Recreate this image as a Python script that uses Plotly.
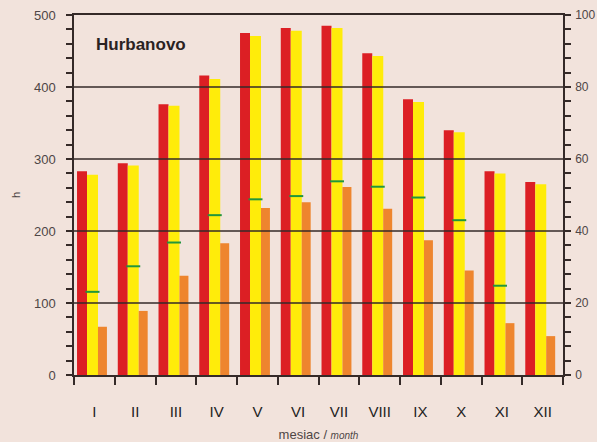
import plotly.graph_objects as go

# Monthly sunshine, Hurbanovo
months = ["I", "II", "III", "IV", "V", "VI", "VII", "VIII", "IX", "X", "XI", "XII"]
possible_hours = [283, 294, 376, 416, 475, 482, 485, 447, 383, 340, 283, 268]
astro_hours = [278, 291, 374, 411, 471, 478, 482, 443, 379, 337, 280, 265]
actual_hours = [67, 89, 138, 183, 232, 240, 261, 231, 187, 145, 72, 54]
relative_pct = [23.1, 30.2, 36.8, 44.4, 48.8, 49.7, 53.8, 52.3, 49.3, 43.0, 24.8, None]

grid_levels = [100, 200, 300, 400]

BG = "#f2e3dc"
INK = "#352a28"
LABEL = "#4e4646"
FONT = "Liberation Sans Narrow, Arial, sans-serif"

centers = [i + 0.5 for i in range(len(months))]

fig = go.Figure()
fig.add_bar(x=centers, y=possible_hours, offset=-0.426, width=0.245,
            marker=dict(color="#dc1f24", line=dict(width=0)), showlegend=False)
fig.add_bar(x=centers, y=astro_hours, offset=-0.181, width=0.27,
            marker=dict(color="#ffec0a", line=dict(width=0)), showlegend=False)
fig.add_bar(x=centers, y=actual_hours, offset=0.088, width=0.22,
            marker=dict(color="#ee852e", line=dict(width=0)), showlegend=False)
fig.add_scatter(x=[c - 0.046 for c in centers], y=relative_pct, yaxis="y2",
                mode="markers", showlegend=False,
                marker=dict(symbol="line-ew", size=10,
                            line=dict(color="#22963c", width=2)))

for lvl in grid_levels:
    fig.add_shape(type="line", xref="paper", x0=0, x1=1, yref="y", y0=lvl, y1=lvl,
                  line=dict(color=INK, width=1.5), layer="above")

fig.add_annotation(text="<b>Hurbanovo</b>", xref="paper", yref="paper",
                   x=0.041, y=0.917, xanchor="left", yanchor="middle",
                   showarrow=False, font=dict(family="Arial", size=17, color="#2a2222"))

fig.update_layout(
    width=597, height=442,
    margin=dict(l=74, r=34, t=15, b=67),
    paper_bgcolor=BG, plot_bgcolor=BG,
    barmode="overlay",
    font=dict(family=FONT, color=LABEL, size=13),
    xaxis=dict(
        range=[0, 12], tickmode="array", tickvals=centers, ticktext=months,
        ticks="outside", ticklen=22, tickcolor="rgba(0,0,0,0)",
        tickfont=dict(size=15, color="#222222"),
        minor=dict(tickmode="array", tickvals=list(range(13)), ticks="outside",
                   ticklen=8, tickwidth=1.5, tickcolor=INK),
        showline=True, mirror=True, linecolor=INK, linewidth=1.5,
        showgrid=False, zeroline=False, automargin=False,
        title=dict(text="mesiac / <i><span style='font-size:10px'>month</span></i>",
                   font=dict(size=13, color=LABEL), standoff=14),
    ),
    yaxis=dict(
        range=[0, 500], tickmode="array", tickvals=[0, 100, 200, 300, 400, 500],
        ticks="outside", ticklen=6, tickwidth=1.5, tickcolor=INK,
        ticklabelstandoff=8,
        minor=dict(dtick=20, ticks="outside", ticklen=6, tickwidth=1.5, tickcolor=INK),
        showline=True, linecolor=INK, linewidth=1.5,
        showgrid=False, zeroline=False, automargin=False,
        title=dict(text="h", font=dict(size=11, color=LABEL), standoff=11),
    ),
    yaxis2=dict(
        overlaying="y", side="right", range=[0, 100],
        tickmode="array", tickvals=[0, 20, 40, 60, 80, 100],
        ticks="outside", ticklen=6, tickwidth=1.5, tickcolor=INK,
        ticklabelstandoff=2, tickfont=dict(size=12),
        minor=dict(dtick=4, ticks="outside", ticklen=6, tickwidth=1.5, tickcolor=INK),
        showline=True, linecolor=INK, linewidth=1.5,
        showgrid=False, zeroline=False, automargin=False,
    ),
)

fig.write_html("out.html")
